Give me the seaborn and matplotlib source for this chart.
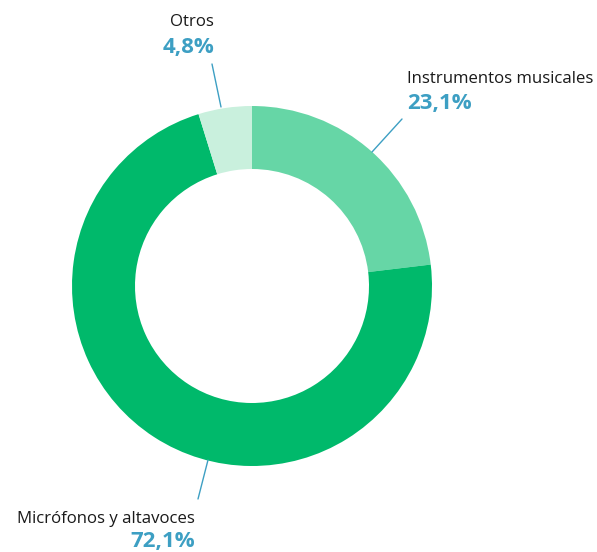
import matplotlib
matplotlib.use("Agg")
import matplotlib.pyplot as plt
import seaborn as sns

categories = ["Instrumentos musicales", "Micrófonos y altavoces", "Otros"]
shares = [23.1, 72.1, 4.8]
pct_labels = ["23,1%", "72,1%", "4,8%"]
colors = ["#66d6a6", "#00b96b", "#c9f0dd"]
blue = "#3d9fc3"

sns.set_theme(style="white")
plt.rcParams["font.family"] = ["Open Sans", "DejaVu Sans"]

fig = plt.figure(figsize=(5.97, 5.52), dpi=100)
ax = fig.add_axes([0, 0, 1, 1])

# donut, drawn top clockwise
ax.pie(shares, colors=colors, startangle=90, counterclock=False,
       center=(252, 266), radius=180, frame=True,
       wedgeprops=dict(width=63, linewidth=0))
ax.set_xlim(0, 597)
ax.set_ylim(0, 552)
ax.set_aspect("equal")
ax.axis("off")

# label layout: (text x, name baseline, pct baseline, align, leader start, leader end)
layout = {
    "Instrumentos musicales": (407, 552 - 83, 552 - 109, "left", (372, 552 - 152), (402, 552 - 119)),
    "Micrófonos y altavoces": (195, 552 - 523, 552 - 547, "right", (208, 552 - 460), (198, 552 - 499)),
    "Otros": (214, 552 - 26, 552 - 53, "right", (221, 552 - 107), (212, 552 - 64)),
}

for cat, pct in zip(categories, pct_labels):
    x, yn, yp, ha, p0, p1 = layout[cat]
    ax.text(x, yn, cat, ha=ha, va="baseline", fontsize=12.1, color="#1a1a1a")
    ax.text(x, yp, pct, ha=ha, va="baseline", fontsize=16, fontweight="bold", color=blue)
    ax.plot([p0[0], p1[0]], [p0[1], p1[1]], color=blue, linewidth=1)

fig.savefig("out.png", dpi=100, facecolor="white")
